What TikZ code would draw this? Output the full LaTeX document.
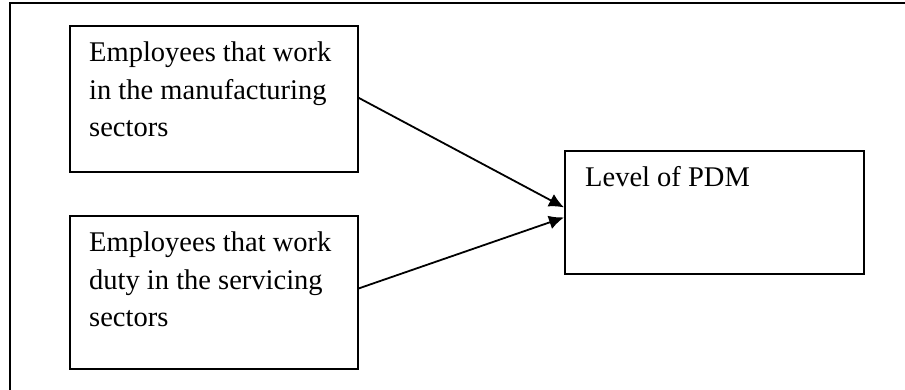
\documentclass[tikz,border=0pt]{standalone}
\usepackage{fontspec}
\setmainfont{Liberation Serif}
\usetikzlibrary{arrows.meta,positioning}

\begin{document}
\begin{tikzpicture}[x=1pt,y=-1pt,
  box/.style={draw,line width=1.8pt,inner sep=0pt,anchor=north west},
  boxtext/.style={anchor=north west,inner sep=0pt,align=left,
    font=\fontsize{28.5}{37.5}\selectfont},
  link/.style={line width=1.8pt,-{Latex[length=15pt,width=14pt]}}]
  \useasboundingbox (0,0) rectangle (905,390);
  \draw[line width=1.8pt] (10,3) rectangle (915,400);% outer frame

  \node[box,minimum width=288pt,minimum height=146pt] (manu) at (69,25) {};
  \node[box,minimum width=288pt,minimum height=153pt] (serv) at (69,215) {};
  \node[box,minimum width=299pt,minimum height=123pt] (pdm) at (564,150) {};

  \node[boxtext,below right=17pt and 20pt of manu.north west] (manutext)
    {Employees that work\\in the manufacturing\\sectors};
  \node[boxtext,below right=17pt and 20pt of serv.north west] (servtext)
    {Employees that work\\duty in the servicing\\sectors};
  \node[boxtext,below right=16pt and 21pt of pdm.north west] (pdmtext)
    {Level of PDM};

  \draw[link] ([yshift=1pt]manu.east) -- ([yshift=5pt]pdm.west);
  \draw[link] ([yshift=4pt]serv.east) -- ([yshift=-5pt]pdm.west);
\end{tikzpicture}
\end{document}
